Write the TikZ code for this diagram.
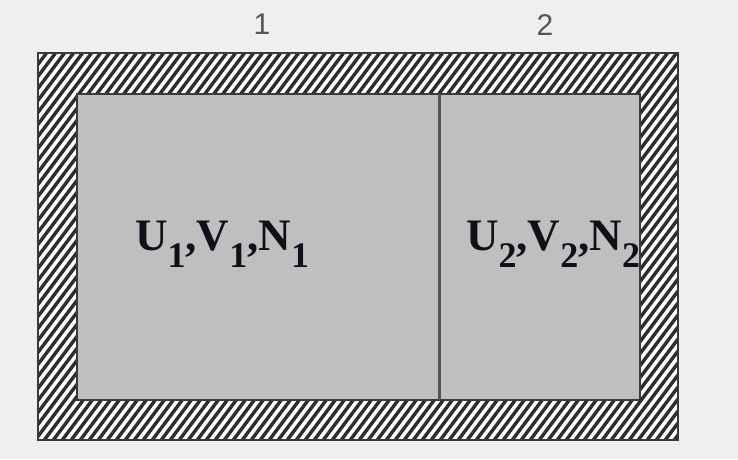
\documentclass[tikz,border=0pt]{standalone}
\usepackage{fontspec}
\setmainfont{Liberation Serif}
\newfontfamily\labelfont{Liberation Sans}
\definecolor{bgc}{HTML}{EFEFEF}
\definecolor{innerc}{HTML}{BFBFBF}
\definecolor{hatchc}{HTML}{2E2E2E}
\definecolor{edgec}{HTML}{3A3A3A}
\definecolor{divc}{HTML}{555555}
\definecolor{labc}{HTML}{555555}
\definecolor{txtc}{HTML}{10101A}
\newcommand{\bigsub}[1]{\raisebox{-17pt}{\fontsize{36}{40}\selectfont #1}}
\begin{document}
\begin{tikzpicture}[x=1pt,y=1pt,
  hatchline/.style={hatchc,line width=3.4pt},
  edgeline/.style={edgec,line width=2.4pt},
  numlabel/.style={labc,font=\labelfont\fontsize{30}{32}\selectfont,inner sep=0pt,anchor=base},
  statetext/.style={txtc,font=\bfseries\fontsize{45}{50}\selectfont,inner sep=0pt,anchor=base west}]
  % background / bounding box
  \fill[bgc] (0,0) rectangle (738,459);
  \useasboundingbox (0,0) rectangle (738,459);
  % frame coordinates (y flipped: 459 - y)
  \coordinate (oSW) at (38,19);
  \coordinate (oNE) at (678,406);
  \coordinate (iSW) at (77,59);
  \coordinate (iNE) at (640,365);
  % hatched wall
  \fill[white,even odd rule] (oSW) rectangle (oNE) (iSW) rectangle (iNE);
  \begin{scope}[even odd rule]
    \clip (oSW) rectangle (oNE) (iSW) rectangle (iNE);
    \foreach \x in {-330,-321,...,700} {
      \draw[hatchline] (\x,0) -- ++(345,460);
    }
  \end{scope}
  % inner gas region
  \fill[innerc] (iSW) rectangle (iNE);
  \draw[edgeline] (oSW) rectangle (oNE);
  \draw[edgeline] (iSW) rectangle (iNE);
  % divider
  \coordinate (dTop) at (439,365);
  \coordinate (dBot) at (439,59);
  \draw[divc,line width=3pt] (dTop) -- (dBot);
  % labels
  \node[numlabel] (lab1) at (262,424) {1};
  \node[numlabel] (lab2) at (545,423) {2};
  \node[statetext] (s1) at (135,209) {U\bigsub{1},V\bigsub{1},N\bigsub{1}};
  \node[statetext] (s2) at (466,209) {U\bigsub{2},V\bigsub{2},N\bigsub{2}};
\end{tikzpicture}
\end{document}
